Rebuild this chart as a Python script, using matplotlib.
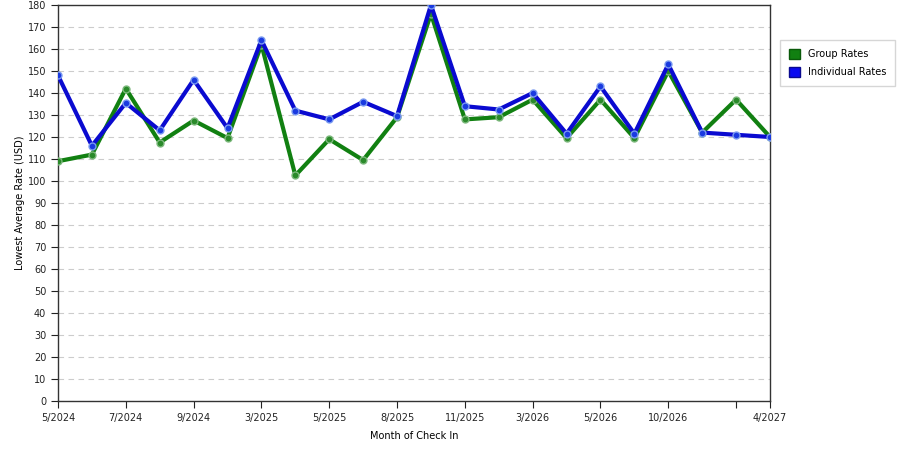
import matplotlib
matplotlib.use("Agg")
import matplotlib.pyplot as plt
from matplotlib.patches import Patch

# month labels for every second check-in point (blank = unlabeled tick)
tickLabels = ["5/2024", "7/2024", "9/2024", "3/2025", "5/2025", "8/2025",
              "11/2025", "3/2026", "5/2026", "10/2026", "", "4/2027"]

groupRates = [109, 112, 142, 117.5, 127.5, 119.5, 162, 102.5, 119, 109.5, 129,
              176, 128, 129, 137, 119.5, 137, 119.5, 150, 122, 137, 120]
individualRates = [148, 116, 135.5, 123, 146, 124, 164, 132, 128, 136, 129.5,
                   180, 134, 132.5, 140, 121.5, 143, 121.5, 153, 122, 121, 120]

xs = list(range(len(groupRates)))
tickPos = list(range(0, len(xs), 2)) + [len(xs) - 1]

plt.rcParams["font.family"] = "DejaVu Sans"

fig = plt.figure(figsize=(9, 4.5), dpi=100)
ax = fig.add_axes([58 / 900, 49 / 450, 712 / 900, 396 / 450])

ax.plot(xs, groupRates, color="#118011", lw=3, marker="o", ms=5,
        mfc="#2a8a2a", mec="#7cb87c", mew=1, zorder=3)
ax.plot(xs, individualRates, color="#0a0ad0", lw=3, marker="o", ms=5,
        mfc="#1a3ae0", mec="#7a9af0", mew=1, zorder=4)

ax.set_xlim(0, len(xs) - 1)
ax.set_ylim(0, 180)
ax.set_yticks(range(0, 181, 10))
ax.set_xticks(tickPos)
ax.set_xticklabels(tickLabels)
ax.tick_params(labelsize=7, length=5, width=0.8, direction="out", colors="#222222")
ax.yaxis.grid(True, color="#cccccc", linestyle=(0, (5, 4)), lw=0.8)
ax.set_axisbelow(True)
for s in ax.spines.values():
    s.set_color("#333333")
    s.set_linewidth(1)

ax.set_xlabel("Month of Check In", fontsize=7, labelpad=6)
ax.set_ylabel("Lowest Average Rate (USD)", fontsize=7, labelpad=2)

handles = [Patch(facecolor="#118011", edgecolor="#0a5a0a", label="Group Rates"),
           Patch(facecolor="#0a0af0", edgecolor="#0a0a90", label="Individual Rates")]
fig.legend(handles=handles, loc="upper left", bbox_to_anchor=(775 / 900, 1 - 35 / 450),
           fontsize=7, frameon=True, fancybox=False, edgecolor="#cccccc",
           handlelength=1.2, handleheight=1.2, borderpad=0.9, labelspacing=0.8)

fig.savefig("out.png", dpi=100)
